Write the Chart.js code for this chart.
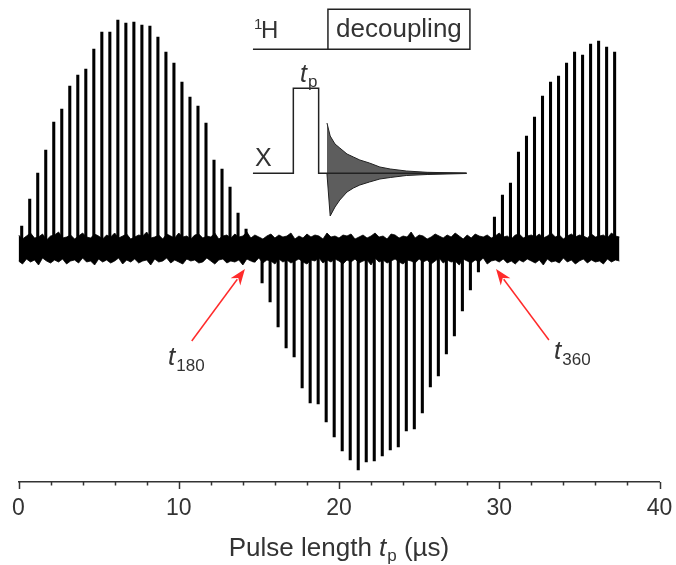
<!DOCTYPE html>
<html>
<head>
<meta charset="utf-8">
<script src="https://cdn.jsdelivr.net/npm/chart.js@4.4.0/dist/chart.umd.min.js"></script>
<style>
	html, body { margin: 0; padding: 0; background: #fff; overflow: hidden; }
	canvas { display: block; }
</style>
</head>
<body>
<canvas id="nutation" width="676" height="565"></canvas>
<script>
// Длительность импульса: первый спектр и шаг, мкс
const pulseStart = 0.2
const pulseStep = 0.5

// Интенсивность пика в каждом спектре (отн. ед.)
const peakHeights = [
	22, 49, 75, 98, 126, 139, 162, 173, 179, 199,
	216, 216, 228, 225, 226, 223, 222, 211, 196, 185,
	166, 151, 142, 125, 88, 79, 61, 35, 19, -14,
	-35, -54, -79, -100, -109, -140, -155, -156, -174, -189,
	-203, -212, -222, -214, -213, -208, -202, -199, -183, -181,
	-165, -139, -128, -106, -88, -63, -42, -24, 4, 31,
	53, 65, 96, 112, 131, 152, 166, 172, 185, 196,
	193, 204, 207, 201, 196
]

// Шумовая дорожка: верхняя и нижняя граница через каждые 0.25 мкс
const noiseStep = 0.25
const noiseTop = [
	13, 9, 12, 15, 10, 11, 14, 8, 12, 13,
	16, 10, 11, 13, 9, 12, 15, 11, 10, 14,
	12, 9, 13, 11, 15, 10, 12, 14, 9, 11,
	13, 12, 16, 10, 11, 13, 9, 14, 12, 10,
	15, 11, 12, 9, 13, 14, 10, 12, 11, 15,
	9, 12, 13, 10, 14, 11, 12, 16, 10, 13,
	11, 9, 12, 14, 10, 13, 11, 12, 15, 9,
	12, 10, 14, 11, 13, 12, 9, 15, 11, 12,
	10, 13, 12, 14, 9, 11, 13, 10, 12, 15,
	11, 12, 9, 14, 13, 10, 12, 11, 16, 10,
	13, 12, 9, 11, 14, 12, 10, 13, 11, 15,
	12, 9, 13, 10, 14, 12, 11, 13, 10, 12,
	15, 11, 12, 9, 13, 14, 10, 12, 13, 11,
	14, 10, 12, 15, 11, 13, 9, 12, 14, 11,
	13, 12, 10, 14, 11, 12, 13, 10, 15, 12,
	11
]
const noiseBottom = [
	-13, -16, -11, -14, -12, -17, -10, -13, -15, -12,
	-14, -11, -16, -13, -12, -15, -10, -14, -13, -17,
	-11, -14, -12, -15, -13, -10, -16, -12, -14, -11,
	-15, -13, -12, -17, -11, -14, -13, -10, -15, -12,
	-14, -16, -11, -13, -12, -15, -14, -10, -13, -16,
	-12, -11, -15, -13, -14, -12, -17, -11, -13, -14,
	-10, -15, -12, -13, -16, -11, -14, -12, -15, -13,
	-11, -14, -16, -12, -13, -10, -15, -12, -14, -11,
	-13, -16, -12, -14, -11, -15, -13, -12, -17, -10,
	-14, -12, -15, -13, -11, -14, -16, -12, -13, -15,
	-11, -14, -12, -16, -13, -10, -15, -12, -14, -13,
	-17, -11, -13, -15, -12, -14, -10, -16, -13, -12,
	-14, -11, -15, -13, -16, -12, -14, -11, -13, -15,
	-12, -17, -11, -14, -13, -15, -10, -14, -12, -16,
	-13, -11, -15, -12, -14, -13, -16, -11, -14, -12,
	-13
]

// Схема импульсной последовательности (в координатах графика)
const protonT = [14.63, 19.31, 19.31, 28.17, 28.17, 19.31]
const protonV = [198.7, 198.7, 238.7, 238.7, 198.7, 198.7]
const xChanT = [14.63, 17.15, 17.15, 18.73, 18.73, 27.97]
const xChanV = [74.7, 74.7, 159.7, 159.7, 74.7, 74.7]
// Огибающая спада свободной индукции
const fidT = [19.25, 19.45, 19.75, 20.05, 20.5, 20.9, 21.3, 21.9, 22.55, 23.2, 24.2, 25.5, 27.95]
const fidUpper = [125, 112, 104, 100, 94, 91, 88, 85, 81, 79, 77, 75.7, 74.9]
const fidLower = [74, 32, 41, 48, 56, 60, 63, 66, 69, 70.5, 72.5, 73.5, 74.5]

const xMajorTicks = [0, 10, 20, 30, 40]
const xMinorStep = 2

const textFont = '"Liberation Sans", Arial, sans-serif'
const textColor = '#333'

const pts = (ts, vs) => ts.map((t, i) => ({ x: t, y: vs[i] }))

// Подписи, стрелки и деления оси поверх графика
const annotations = {
	id: 'annotations',
	afterDraw(chart) {
		const { ctx, scales: { x, y }, chartArea } = chart
		const px = t => x.getPixelForValue(t)
		const py = v => y.getPixelForValue(v)

		ctx.save()
		ctx.fillStyle = textColor
		ctx.textBaseline = 'alphabetic'

		// t с нижним индексом
		const tSub = (left, base, sub, size, subSize, drop) => {
			ctx.font = `italic ${size}px ${textFont}`
			ctx.fillText('t', left, base)
			const w = ctx.measureText('t').width
			ctx.font = `${subSize}px ${textFont}`
			ctx.fillText(sub, left + w + 1, base + drop)
		}

		// ¹H и decoupling
		ctx.font = `15px ${textFont}`
		ctx.fillText('1', px(14.70), py(219))
		ctx.font = `24px ${textFont}`
		ctx.fillText('H', px(15.13), py(210))
		ctx.textAlign = 'center'
		ctx.font = `26px ${textFont}`
		ctx.fillText('decoupling', px(23.74), py(211))
		ctx.textAlign = 'left'
		ctx.font = `25px ${textFont}`
		ctx.fillText('X', px(14.76), py(82))
		tSub(px(17.57), py(166), 'p', 25, 17, 5)

		// t180 и t360
		tSub(px(9.33), py(-117), '180', 26, 17, 6)
		tSub(px(33.42), py(-111), '360', 26, 17, 6)

		// Красные стрелки
		const arrow = (t0, v0, t1, v1) => {
			const x0 = px(t0), y0 = py(v0), x1 = px(t1), y1 = py(v1)
			const a = Math.atan2(y1 - y0, x1 - x0)
			const len = 16, half = 6
			ctx.strokeStyle = '#ff2b2b'
			ctx.fillStyle = '#ff2b2b'
			ctx.lineWidth = 1.5
			ctx.beginPath()
			ctx.moveTo(x0, y0)
			ctx.lineTo(x1 - Math.cos(a) * len * 0.8, y1 - Math.sin(a) * len * 0.8)
			ctx.stroke()
			ctx.beginPath()
			ctx.moveTo(x1, y1)
			ctx.lineTo(x1 - Math.cos(a) * len - Math.sin(a) * half, y1 - Math.sin(a) * len + Math.cos(a) * half)
			ctx.lineTo(x1 - Math.cos(a) * len * 0.7, y1 - Math.sin(a) * len * 0.7)
			ctx.lineTo(x1 - Math.cos(a) * len + Math.sin(a) * half, y1 - Math.sin(a) * len - Math.cos(a) * half)
			ctx.closePath()
			ctx.fill()
		}
		arrow(10.81, -93, 14.13, -21)
		arrow(33.1, -92, 29.8, -21)

		// Деления оси X: большие на подписях, малые через 2 мкс
		ctx.strokeStyle = textColor
		ctx.lineWidth = 1.5
		const axisY = chartArea.bottom
		for (let t = x.min; t <= x.max; t += xMinorStep) {
			const len = xMajorTicks.includes(t) ? 7 : 3.5
			const xx = Math.round(px(t)) + 0.5
			ctx.beginPath()
			ctx.moveTo(xx, axisY)
			ctx.lineTo(xx, axisY + len)
			ctx.stroke()
		}

		// Подпись оси: Pulse length t_p (µs)
		ctx.fillStyle = textColor
		const base = 556
		const size = 26
		const p1 = 'Pulse length ', p3 = ' (µs)'
		ctx.font = `${size}px ${textFont}`
		const w1 = ctx.measureText(p1).width
		const w3 = ctx.measureText(p3).width
		ctx.font = `italic ${size}px ${textFont}`
		const wt = ctx.measureText('t').width
		ctx.font = `17px ${textFont}`
		const wp = ctx.measureText('p').width
		const total = w1 + wt + 1 + wp + w3
		let cx = (chartArea.left + chartArea.right) / 2 - total / 2
		ctx.font = `${size}px ${textFont}`
		ctx.fillText(p1, cx, base)
		cx += w1
		ctx.font = `italic ${size}px ${textFont}`
		ctx.fillText('t', cx, base)
		cx += wt + 1
		ctx.font = `17px ${textFont}`
		ctx.fillText('p', cx, base + 5)
		cx += wp
		ctx.font = `${size}px ${textFont}`
		ctx.fillText(p3, cx, base)

		ctx.restore()
	}
}

const ctx = document.getElementById('nutation').getContext('2d')
new Chart(ctx, {
	type: 'bar',
	data: {
		datasets: [
			{
				type: 'line',
				data: noiseTop.map((v, i) => ({ x: i * noiseStep, y: v })),
				borderColor: '#000',
				backgroundColor: '#000',
				borderWidth: 0.8,
				pointRadius: 0,
				fill: '+1',
			},
			{
				type: 'line',
				data: noiseBottom.map((v, i) => ({ x: i * noiseStep, y: v })),
				borderColor: '#000',
				borderWidth: 0.8,
				pointRadius: 0,
				fill: false,
			},
			{
				data: peakHeights.map((h, i) => ({ x: pulseStart + i * pulseStep, y: h })),
				backgroundColor: '#000',
				borderWidth: 0,
				barThickness: 2.4,
			},
			{
				type: 'line',
				data: pts(protonT, protonV),
				borderColor: '#222',
				borderWidth: 1.5,
				pointRadius: 0,
				fill: false,
			},
			{
				type: 'line',
				data: pts(xChanT, xChanV),
				borderColor: '#222',
				borderWidth: 1.5,
				pointRadius: 0,
				fill: false,
			},
			{
				type: 'line',
				data: pts(fidT, fidUpper),
				borderColor: '#222',
				backgroundColor: 'rgba(30,30,30,0.72)',
				borderWidth: 1,
				pointRadius: 0,
				fill: '+1',
			},
			{
				type: 'line',
				data: pts(fidT, fidLower),
				borderColor: '#222',
				borderWidth: 1,
				pointRadius: 0,
				fill: false,
			},
		]
	},
	options: {
		responsive: false,
		animation: false,
		devicePixelRatio: 1,
		layout: { padding: { left: 18.5, right: 16.5, top: 8, bottom: 39.4 } },
		elements: { line: { tension: 0 } },
		plugins: {
			legend: { display: false },
			tooltip: { enabled: false },
		},
		scales: {
			x: {
				type: 'linear',
				min: 0,
				max: 40,
				offset: false,
				afterBuildTicks: scale => {
					scale.ticks = xMajorTicks.map(v => ({ value: v }))
				},
				grid: {
					offset: false,
					drawOnChartArea: false,
					drawTicks: true,
					tickLength: 10,
					tickColor: 'transparent',
				},
				border: { display: true, color: textColor, width: 1.5 },
				ticks: {
					color: textColor,
					font: { family: textFont, size: 23 },
					padding: 3,
					maxRotation: 0,
				},
			},
			y: {
				display: false,
				min: -234,
				max: 240,
			},
		},
	},
	plugins: [annotations],
})
</script>
</body>
</html>
